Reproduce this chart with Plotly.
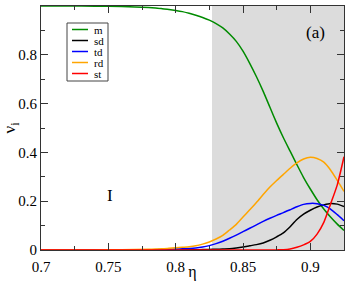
import plotly.graph_objects as go

eta = [0.70, 0.72, 0.74, 0.76, 0.78, 0.785, 0.79, 0.795, 0.80, 0.805, 0.81, 0.815,
       0.82, 0.825, 0.83, 0.835, 0.84, 0.845, 0.85, 0.855, 0.86, 0.865, 0.87, 0.875,
       0.88, 0.885, 0.89, 0.895, 0.90, 0.905, 0.91, 0.915, 0.92, 0.925]

m = [1.0, 1.0, 0.999, 0.998, 0.994, 0.992, 0.989, 0.986, 0.982, 0.977, 0.97, 0.962,
     0.953, 0.942, 0.928, 0.91, 0.885, 0.855, 0.815, 0.765, 0.71, 0.65, 0.585, 0.52,
     0.46, 0.405, 0.35, 0.297, 0.25, 0.206, 0.168, 0.135, 0.106, 0.08]

sd = [0.0, 0.0, 0.0, 0.0, 0.0002, 0.0003, 0.0004, 0.0005, 0.0006, 0.0008, 0.001, 0.0013,
      0.0017, 0.0022, 0.003, 0.004, 0.005, 0.008, 0.012, 0.017, 0.022, 0.029, 0.04, 0.054,
      0.07, 0.095, 0.125, 0.147, 0.163, 0.176, 0.185, 0.191, 0.188, 0.178]

td = [0.0, 0.0, 0.0, 0.0005, 0.001, 0.0015, 0.002, 0.003, 0.004, 0.005, 0.006, 0.008,
      0.012, 0.018, 0.026, 0.036, 0.048, 0.061, 0.075, 0.089, 0.103, 0.117, 0.13, 0.142,
      0.153, 0.165, 0.177, 0.187, 0.191, 0.19, 0.183, 0.168, 0.145, 0.12]

rd = [0.0, 0.0, 0.0005, 0.001, 0.003, 0.004, 0.005, 0.007, 0.009, 0.011, 0.013, 0.017,
      0.024, 0.033, 0.045, 0.06, 0.082, 0.105, 0.135, 0.165, 0.195, 0.227, 0.258, 0.285,
      0.31, 0.335, 0.357, 0.373, 0.38, 0.375, 0.36, 0.328, 0.285, 0.24]

st = [0.0, 0.0, 0.0, 0.0, 0.0, 0.0, 0.0, 0.0, 0.0, 0.0, 0.0, 0.0,
      0.0, 0.0, 0.0, 0.0, 0.0, 0.0, 0.0, 0.0, 0.0, 0.0, 0.0, 0.0005,
      0.001, 0.004, 0.011, 0.021, 0.035, 0.065, 0.113, 0.188, 0.267, 0.382]

names = ["m", "sd", "td", "rd", "st"]
colors = ["rgb(0,139,0)", "black", "rgb(0,0,255)", "rgb(255,165,0)", "rgb(255,0,0)"]
values = [m, sd, td, rd, st]

region_start = 0.827
xticks = [0.7, 0.75, 0.8, 0.85, 0.9]
xticklabels = ["0.7", "0.75", "0.8", "0.85", "0.9"]
yticks = [0, 0.2, 0.4, 0.6, 0.8, 1]
yticklabels = ["0", "0.2", "0.4", "0.6", "0.8", "1"]

serif = "Liberation Serif"

fig = go.Figure()
for name, vals, col in zip(names, values, colors):
    fig.add_trace(go.Scatter(x=eta, y=vals, mode="lines", name=name, showlegend=False,
                             hoverinfo="skip",
                             line=dict(color=col, width=1.5, shape="spline", smoothing=0.6)))

fig.add_shape(type="rect", xref="x", yref="y", x0=region_start, x1=0.925, y0=0, y1=1,
              fillcolor="#dcdcdc", line=dict(width=0), layer="below")

# compact legend box
W, H, L, T = 303.0, 244.0, 41.0, 6.0
def px(xp):
    return (xp - L) / W
def py(yp):
    return 1 - (yp - T) / H

fig.add_shape(type="rect", xref="paper", yref="paper", x0=px(67), x1=px(108),
              y0=py(81), y1=py(23), line=dict(color="#444", width=1), fillcolor="white")
entry_y = [29.5, 40.5, 51.5, 62.5, 73.5]
for name, col, yy in zip(names, colors, entry_y):
    fig.add_shape(type="line", xref="paper", yref="paper", x0=px(72), x1=px(88),
                  y0=py(yy), y1=py(yy), line=dict(color=col, width=1.5))
    fig.add_annotation(x=px(93), y=py(yy), xref="paper", yref="paper", text=name,
                       showarrow=False, xanchor="left", yanchor="middle", borderpad=0,
                       font=dict(family=serif, size=11, color="black"))

fig.add_annotation(x=0.9035, y=0.891, xref="x", yref="y", text="(a)", showarrow=False,
                   font=dict(family=serif, size=17, color="black"))
fig.add_annotation(x=0.7515, y=0.225, xref="x", yref="y", text="I", showarrow=False,
                   font=dict(family=serif, size=17, color="black"))

fig.update_xaxes(range=[0.7, 0.925], tickmode="array", tickvals=xticks, ticktext=xticklabels,
                 showgrid=False, zeroline=False, showline=True, linecolor="#333",
                 linewidth=1, mirror="ticks", ticks="inside", tickcolor="#333",
                 ticklen=7, tickwidth=1, ticklabelstandoff=3,
                 tickfont_family=serif, tickfont_size=15, tickfont_color="black",
                 minor=dict(ticks="inside", ticklen=4, dtick=0.025, tickcolor="#333"),
                 title=dict(text="η", font=dict(family=serif, size=16, color="black"), standoff=0))
fig.update_yaxes(range=[0, 1], tickmode="array", tickvals=yticks, ticktext=yticklabels,
                 showgrid=False, zeroline=False, showline=True, linecolor="#333",
                 linewidth=1, mirror="ticks", ticks="inside", tickcolor="#333",
                 ticklen=7, tickwidth=1,
                 tickfont_family=serif, tickfont_size=15, tickfont_color="black",
                 minor=dict(ticks="inside", ticklen=4, dtick=0.1, tickcolor="#333"),
                 title=dict(text="ν<sub>i</sub>", font=dict(family=serif, size=17, color="black"), standoff=4))

fig.update_layout(
    width=346, height=281,
    margin=dict(l=41, r=2, t=6, b=31, autoexpand=False),
    plot_bgcolor="white", paper_bgcolor="white",
    showlegend=False,
    font=dict(family=serif, color="black"),
)

fig.write_html("out.html", config={"displayModeBar": False},
               post_script="document.body.style.margin='0';")
